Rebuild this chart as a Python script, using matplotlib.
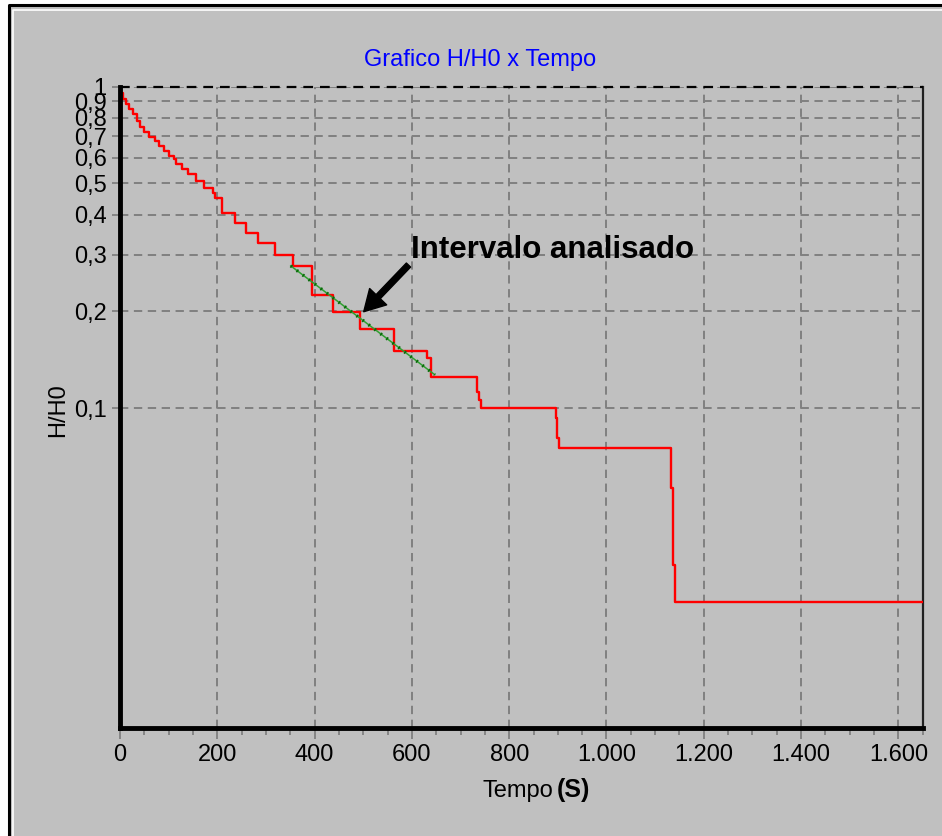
import matplotlib
matplotlib.use('Agg')
import matplotlib.pyplot as plt
from matplotlib.lines import Line2D
from matplotlib.patches import Rectangle
from matplotlib.ticker import FixedLocator, NullLocator

# ---------------- data ----------------
time_s = [0, 7, 12, 18.5, 27, 35, 41, 49, 60, 72, 80, 90, 101, 111, 115, 127, 139,
          156, 173, 191, 195, 209, 236, 259, 284, 319, 356, 394, 438, 493, 563,
          632, 639, 734, 738, 742, 896, 899, 902, 1133, 1136, 1141, 1650]
h_h0 = [0.956, 0.916, 0.884, 0.852, 0.822, 0.784, 0.747, 0.721, 0.696, 0.679,
        0.655, 0.632, 0.610, 0.596, 0.574, 0.554, 0.535, 0.509, 0.484, 0.467,
        0.449, 0.404, 0.376, 0.350, 0.326, 0.299, 0.277, 0.225, 0.199, 0.176,
        0.150, 0.143, 0.125, 0.112, 0.106, 0.0998, 0.0929, 0.0805, 0.0749,
        0.0563, 0.0325, 0.0249, 0.0249]

fit_t = [351, 647]
fit_h = [0.277, 0.127]

y_ticks = [0.1, 0.2, 0.3, 0.4, 0.5, 0.6, 0.7, 0.8, 0.9, 1.0]
y_labels = ['0,1', '0,2', '0,3', '0,4', '0,5', '0,6', '0,7', '0,8', '0,9', '1']
x_ticks = [0, 200, 400, 600, 800, 1000, 1200, 1400, 1600]
x_labels = ['0', '200', '400', '600', '800', '1.000', '1.200', '1.400', '1.600']
x_minor = [v for v in range(0, 1651, 50) if v % 200 != 0]

title = 'Grafico H/H0 x Tempo'
annot_text = 'Intervalo analisado'
annot_xy = (501, 0.1994)
annot_tail = (593, 0.2786)
annot_text_pos = (598, 0.293)

# ---------------- figure ----------------
plt.rcParams['font.family'] = ['Liberation Sans', 'DejaVu Sans']
plt.rcParams['lines.scale_dashes'] = False

W, H = 942, 836
fig = plt.figure(figsize=(W / 100, H / 100), dpi=100, facecolor='white')


def fx(px):
    return px / W


def fy(py):
    return 1 - py / H


BG = '#c0c0c0'
fig.patches.append(Rectangle((fx(9), 0), 1 - fx(9), fy(5), transform=fig.transFigure,
                             facecolor=BG, edgecolor='none', zorder=-10))
fig.lines.append(Line2D([fx(9), fx(9), 1], [0, fy(5), fy(5)], transform=fig.transFigure,
                        color='black', lw=2.2))
fig.lines.append(Line2D([fx(12.5), fx(12.5), 1], [0, fy(9.5), fy(9.5)],
                        transform=fig.transFigure, color='white', lw=1.2))

left, right, top, bottom = 120, 922.7, 86.7, 728
ax = fig.add_axes([fx(left), fy(bottom), fx(right) - fx(left), fy(top) - fy(bottom)])
ax.set_facecolor(BG)
ax.set_yscale('log')
ax.set_xlim(0, 1650)
ax.set_ylim(0.0101, 1)

ax.yaxis.set_major_locator(FixedLocator(y_ticks))
ax.yaxis.set_minor_locator(NullLocator())
ax.set_yticklabels(y_labels)
ax.set_xticks(x_ticks)
ax.set_xticklabels(x_labels)
ax.xaxis.set_minor_locator(FixedLocator(x_minor))

ax.grid(True, which='major', color='#808080', linestyle=(0, (6, 4)), linewidth=1.4, zorder=0)
ax.set_axisbelow(True)

ax.tick_params(axis='x', which='major', direction='out', length=8, width=1.3,
               color='#808080', pad=3.7, labelsize=17)
ax.tick_params(axis='x', which='minor', direction='out', length=5, width=1.3,
               color='#808080')
ax.tick_params(axis='y', which='major', direction='out', length=6, width=1.3,
               color='#808080', pad=3.5, labelsize=17)

for s in ('left', 'bottom'):
    ax.spines[s].set_linewidth(3.5)
    ax.spines[s].set_color('black')
    ax.spines[s].set_zorder(5)
ax.spines['right'].set_linewidth(1.6)
ax.spines['right'].set_color('#202020')
ax.spines['top'].set_visible(False)
ax.axhline(1.0, color='black', linestyle=(0, (7, 5)), lw=1.6, clip_on=False, zorder=4)

# data
ax.plot(time_s, h_h0, drawstyle='steps-post', color='#ff0000', lw=1.7, zorder=3)
ax.plot(fit_t, fit_h, color='#30a030', lw=1.1, zorder=3.5)
ax.plot(fit_t, fit_h, color='#0a6a0a', lw=2.4, linestyle=(0, (1.2, 4.2)), zorder=3.6)

# annotation
ax.annotate('', xy=annot_xy, xytext=annot_tail,
            arrowprops=dict(facecolor='black', edgecolor='black', width=4.2,
                            headwidth=17, headlength=15, shrink=0), zorder=6)
ax.text(annot_text_pos[0], annot_text_pos[1], annot_text, fontsize=22.5,
        fontweight='bold', ha='left', va='baseline', zorder=6)

# texts
fig.text(fx(480), fy(66), title, color='#0000ff', fontsize=17, ha='center', va='baseline')
fig.text(fx(58), fy(410), 'H/H0', fontsize=17, rotation=90, ha='center', va='center')
fig.text(fx(553), fy(797), 'Tempo', fontsize=17, ha='right', va='baseline')
fig.text(fx(557), fy(797), '(S)', fontsize=18, fontweight='bold', ha='left', va='baseline')

fig.savefig('out.png', dpi=100, facecolor=fig.get_facecolor())
